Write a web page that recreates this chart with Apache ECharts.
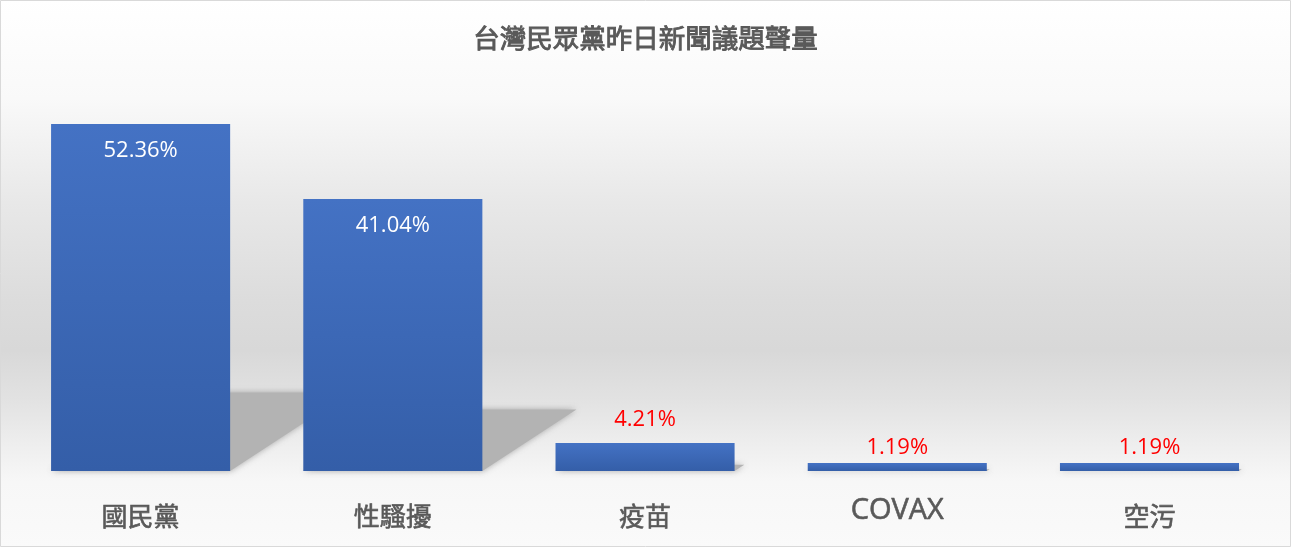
<!DOCTYPE html>
<html>
<head>
<meta charset="utf-8">
<script src="https://cdn.jsdelivr.net/npm/echarts@6/dist/echarts.min.js"></script>
<style>
html,body{margin:0;padding:0;background:#fff;}
#c{width:1291px;height:547px;}
</style>
</head>
<body>
<div id="c"></div>
<script>
const titleText = '台灣民眾黨昨日新聞議題聲量';
const categories = ['國民黨', '性騷擾', '疫苗', 'COVAX', '空污'];
const shares = [52.36, 41.04, 4.21, 1.19, 1.19];

const chart = echarts.init(document.getElementById('c'), null, {renderer: 'canvas'});
const CJK = '"Noto Sans CJK TC", "Noto Sans CJK SC", sans-serif';
const LAT = '"Open Sans", "Noto Sans", sans-serif';
const BAR_RATIO = 0.71;

const barData = shares.map(v => {
  const big = v > 20;
  return {
    value: v,
    label: big
      ? {position: 'insideTop', distance: 16, color: '#ffffff'}
      : {position: 'top', distance: v < 2 ? 4 : 12, color: '#ff0000'}
  };
});

chart.setOption({
  animation: false,
  graphic: [{
    type: 'rect', z: -10, silent: true,
    shape: {x: 0.5, y: 0.5, width: 1290, height: 546},
    style: {
      fill: new echarts.graphic.LinearGradient(0, 0, 0, 1, [
        {offset: 0, color: '#ffffff'},
        {offset: 0.18, color: '#f9f9f9'},
        {offset: 0.37, color: '#e8e8e8'},
        {offset: 0.55, color: '#dcdcdc'},
        {offset: 0.64, color: '#d8d8d8'},
        {offset: 0.73, color: '#e2e2e2'},
        {offset: 0.82, color: '#efefef'},
        {offset: 0.88, color: '#f7f7f7'},
        {offset: 1, color: '#fafafa'}
      ]),
      stroke: '#d9d9d9', lineWidth: 1
    }
  }],
  title: {
    text: titleText, left: 'center', top: 20,
    textStyle: {fontFamily: CJK, fontSize: 26.5, fontWeight: 'normal', color: '#595959',
      textBorderColor: '#595959', textBorderWidth: 0.9}
  },
  grid: {left: 14.5, right: 15.4, top: 73.4, bottom: 76, containLabel: false},
  xAxis: {
    type: 'category', data: categories,
    axisLine: {show: false}, axisTick: {show: false}, splitLine: {show: false},
    axisLabel: {
      margin: 32, interval: 0,
      formatter: v => /^[A-Za-z]/.test(v) ? '{lat|' + v + '}' : '{cjk|' + v + '}',
      rich: {
        cjk: {fontFamily: CJK, fontSize: 26, lineHeight: 26, color: '#595959',
          textBorderColor: '#595959', textBorderWidth: 0.6},
        lat: {fontFamily: LAT, fontSize: 29, lineHeight: 16, color: '#595959',
          textBorderColor: '#595959', textBorderWidth: 0.6}
      }
    }
  },
  yAxis: {type: 'value', min: 0, max: 60, show: false, splitLine: {show: false}},
  series: [
    {
      type: 'custom', z: 1, silent: true,
      data: shares.map((v, i) => [i, v]),
      renderItem: (params, api) => {
        const i = api.value(0), v = api.value(1);
        const base = api.coord([i, 0]);
        const top = api.coord([i, v]);
        const w = api.size([1, 0])[0] * BAR_RATIO;
        const x0 = base[0] - w / 2, x1 = base[0] + w / 2;
        const h = (base[1] - top[1]) * 0.226;
        const dx = h * 1.53;
        const y = base[1];
        return {
          type: 'polygon',
          shape: {points: [[x0, y], [x1, y], [x1 + dx, y - h], [x0 + dx, y - h]]},
          style: {fill: '#b3b3b3', shadowBlur: 6, shadowColor: 'rgba(150,150,150,0.8)'}
        };
      }
    },
    {
      type: 'bar', z: 2,
      data: barData,
      barWidth: (BAR_RATIO * 100) + '%',
      itemStyle: {
        color: new echarts.graphic.LinearGradient(0, 0, 0, 1, [
          {offset: 0, color: '#4472c4'},
          {offset: 1, color: '#345ea8'}
        ])
      },
      label: {
        show: true,
        formatter: p => p.value.toFixed(2) + '%',
        fontFamily: LAT, fontSize: 22, lineHeight: 22
      }
    }
  ]
});
</script>
</body>
</html>
